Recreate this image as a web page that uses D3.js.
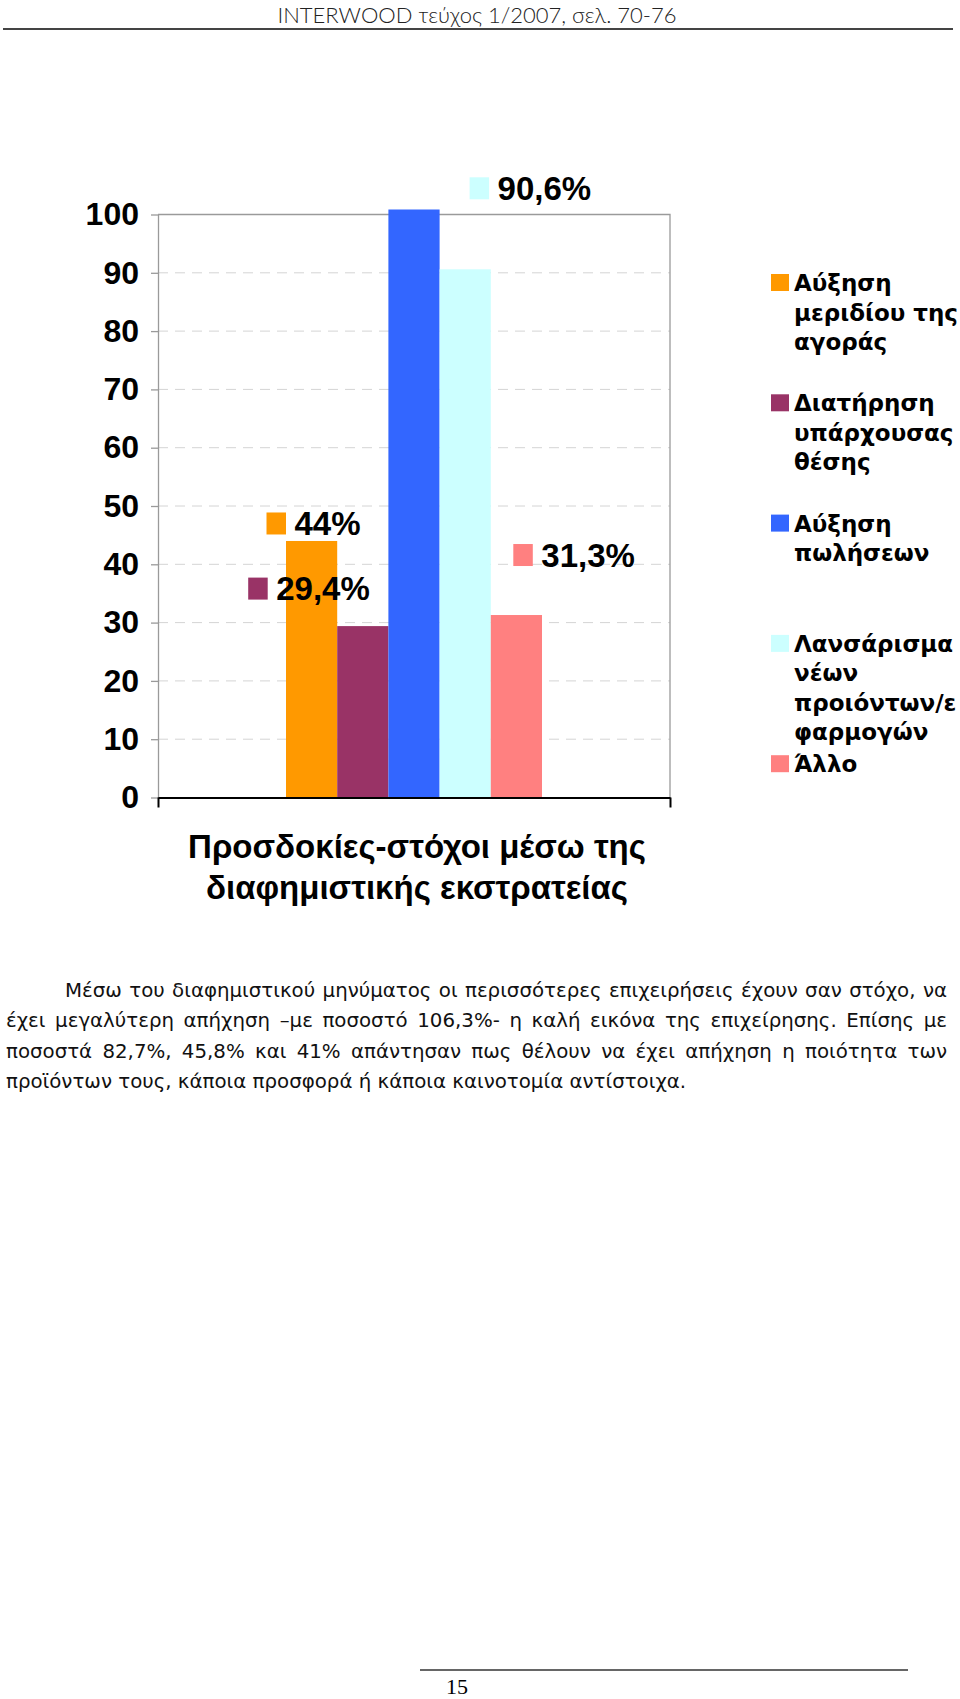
<!DOCTYPE html>
<html>
<head>
<meta charset="utf-8">
<script src="https://cdn.jsdelivr.net/npm/d3@7"></script>
<style>
  body { margin: 0; background: #fff; }
  svg { display: block; }
</style>
</head>
<body>
<svg id="chart" width="960" height="1699"></svg>
<script>
// chart data
var seriesNames = ['Αύξηση μεριδίου της αγοράς', 'Διατήρηση υπάρχουσας θέσης', 'Αύξηση πωλήσεων',
  'Λανσάρισμα νέων προιόντων/εφαρμογών', 'Άλλο'];
var legendLines = [
  ['Αύξηση', 'μεριδίου της', 'αγοράς'],
  ['Διατήρηση', 'υπάρχουσας', 'θέσης'],
  ['Αύξηση', 'πωλήσεων'],
  ['Λανσάρισμα', 'νέων', 'προιόντων/ε', 'φαρμογών'],
  ['Άλλο']
];
var seriesValues = [44, 29.4, 106.3, 90.6, 31.3];
var showLabel = [true, true, false, true, true];
var seriesColors = ['#FF9900', '#993366', '#3366FF', '#CCFFFF', '#FF8080'];
var categories = ['Προσδοκίες-στόχοι μέσω της διαφημιστικής εκστρατείας'];
var categoryLines = ['Προσδοκίες-στόχοι μέσω της', 'διαφημιστικής εκστρατείας'];
var yTicks = [0, 10, 20, 30, 40, 50, 60, 70, 80, 90, 100];

var headerText = 'INTERWOOD τεύχος 1/2007, σελ. 70-76';
var pageNumber = '15';
var paragraphLines = [
  'Μέσω του διαφημιστικού μηνύματος οι περισσότερες επιχειρήσεις έχουν σαν στόχο, να',
  'έχει μεγαλύτερη απήχηση –με ποσοστό 106,3%- η καλή εικόνα της επιχείρησης. Επίσης με',
  'ποσοστά 82,7%, 45,8% και 41% απάντησαν πως θέλουν να έχει απήχηση η ποιότητα των',
  'προϊόντων τους, κάποια προσφορά ή κάποια καινοτομία αντίστοιχα.'
];

// label placement (hand-placed in the original chart), relative to bar top-left
var labelNudge = [
  { dx: -19.5, dy: -28.5 },
  { dx: -89, dy: -48.5 },
  { dx: 0, dy: 0 },
  { dx: 30, dy: -92 },
  { dx: 22.5, dy: -71 }
];

function buildChart() {
  var svg = d3.select('#chart');
  var plot = { l: 158, r: 670, t: 214.5, b: 797.5 };
  var boldFont = '"Liberation Sans", Arial, sans-serif';

  svg.append('rect').attr('width', 960).attr('height', 1699).attr('fill', '#fff');

  // page header
  svg.append('text')
    .attr('x', 477).attr('y', 23)
    .attr('text-anchor', 'middle')
    .attr('font-family', 'Lato, "DejaVu Sans", sans-serif')
    .attr('font-weight', 300)
    .attr('font-size', 22)
    .attr('fill', '#222')
    .text(headerText);
  svg.append('line')
    .attr('x1', 3).attr('x2', 953).attr('y1', 29).attr('y2', 29)
    .attr('stroke', '#444').attr('stroke-width', 2);

  var yScale = d3.scaleLinear().domain([0, 100]).range([plot.b, plot.t]);
  var xScale = d3.scaleBand().domain(categories).range([plot.l, plot.r])
    .paddingInner(0).paddingOuter(0.5);
  var xSeries = d3.scaleBand().domain(d3.range(seriesValues.length))
    .range([0, xScale.bandwidth()]);

  // gridlines
  svg.append('g').selectAll('line')
    .data(yTicks.filter(d => d > 0 && d < 100))
    .enter().append('line')
    .attr('x1', plot.l).attr('x2', plot.r)
    .attr('y1', d => yScale(d)).attr('y2', d => yScale(d))
    .attr('stroke', '#d4d4d4').attr('stroke-width', 1)
    .attr('stroke-dasharray', '10,7');

  // plot frame (top and right)
  svg.append('path')
    .attr('d', 'M' + plot.l + ',' + plot.t + 'H' + plot.r + 'V' + plot.b)
    .attr('fill', 'none').attr('stroke', '#9a9a9a').attr('stroke-width', 1.3);

  // bars (clipped just above the plot area, like the original)
  svg.append('clipPath').attr('id', 'barClip')
    .append('rect')
    .attr('x', plot.l).attr('y', plot.t - 5)
    .attr('width', plot.r - plot.l).attr('height', plot.b - plot.t + 5);

  var barX = i => xScale(categories[0]) + xSeries(i);
  var barTop = v => Math.max(yScale(v), plot.t - 5);

  svg.append('g').attr('clip-path', 'url(#barClip)')
    .selectAll('rect')
    .data(seriesValues)
    .enter().append('rect')
    .attr('x', (d, i) => barX(i))
    .attr('y', d => yScale(d))
    .attr('width', xSeries.bandwidth())
    .attr('height', d => yScale(0) - yScale(d))
    .attr('fill', (d, i) => seriesColors[i]);

  // y axis
  var yAxisG = svg.append('g')
    .attr('transform', 'translate(' + plot.l + ',0)')
    .call(d3.axisLeft(yScale).tickValues(yTicks).tickSize(7).tickPadding(12).tickSizeOuter(0));
  yAxisG.select('.domain').attr('stroke', '#9a9a9a').attr('stroke-width', 1.3);
  yAxisG.selectAll('.tick line').attr('stroke', '#9a9a9a').attr('stroke-width', 1.3);
  yAxisG.selectAll('.tick text')
    .attr('font-family', boldFont)
    .attr('font-weight', 'bold')
    .attr('font-size', 32)
    .attr('fill', '#000');

  // x axis: one category, tick marks at both ends
  var xEdge = d3.scaleLinear().domain([0, 1]).range([plot.l, plot.r]);
  var xAxisG = svg.append('g')
    .attr('transform', 'translate(0,' + plot.b + ')')
    .call(d3.axisBottom(xEdge).tickValues([0, 1]).tickSize(10).tickSizeOuter(0).tickFormat(''));
  xAxisG.select('.domain').attr('stroke', '#000').attr('stroke-width', 2);
  xAxisG.selectAll('.tick line').attr('stroke', '#000').attr('stroke-width', 2);

  // category label
  svg.append('g').selectAll('text')
    .data(categoryLines)
    .enter().append('text')
    .attr('x', xScale(categories[0]) + xScale.bandwidth() / 2 + 3)
    .attr('y', (d, i) => 858 + i * 41)
    .attr('text-anchor', 'middle')
    .attr('font-family', boldFont)
    .attr('font-weight', 'bold')
    .attr('font-size', 33)
    .attr('fill', '#000')
    .text(d => d);

  // data labels with legend key
  var fmt = d3.formatLocale({ decimal: ',', thousands: '.', grouping: [3], currency: ['', '€'] }).format('~r');
  var labelData = seriesValues.map((v, i) => ({ v: v, i: i })).filter(d => showLabel[d.i]);
  var labels = svg.append('g').selectAll('g')
    .data(labelData)
    .enter().append('g')
    .attr('transform', d => 'translate(' + [barX(d.i) + labelNudge[d.i].dx, barTop(d.v) + labelNudge[d.i].dy] + ')');
  labels.append('rect')
    .attr('width', 19.5).attr('height', 22)
    .attr('fill', d => seriesColors[d.i]);
  labels.append('text')
    .attr('x', 28).attr('y', 22.5)
    .attr('font-family', boldFont)
    .attr('font-weight', 'bold')
    .attr('font-size', 33)
    .attr('fill', '#000')
    .text(d => fmt(d.v) + '%');

  // legend
  var legend = svg.append('g').selectAll('g')
    .data(seriesNames)
    .enter().append('g')
    .attr('transform', (d, i) => 'translate(771,' + (291 + i * 120.3) + ')');
  legend.append('rect')
    .attr('y', -17).attr('width', 18).attr('height', 17)
    .attr('fill', (d, i) => seriesColors[i]);
  legend.append('text')
    .attr('font-family', '"DejaVu Sans", Verdana, sans-serif')
    .attr('font-weight', 'bold')
    .attr('font-size', 23)
    .attr('fill', '#000')
    .selectAll('tspan')
    .data((d, i) => legendLines[i])
    .enter().append('tspan')
    .attr('x', 23)
    .attr('y', (d, j) => j * 29.5)
    .text(d => d);

  // paragraph, justified
  var paraG = svg.append('g')
    .attr('font-family', '"DejaVu Sans", sans-serif')
    .attr('font-size', 19.8)
    .attr('fill', '#111');
  paragraphLines.forEach(function(line, i) {
    var x0 = i === 0 ? 65 : 6;
    var t = paraG.append('text')
      .attr('x', x0)
      .attr('y', 997 + i * 30.3)
      .text(line);
    if (i < paragraphLines.length - 1) {
      var len = t.node().getComputedTextLength();
      var spaces = line.split(' ').length - 1;
      t.attr('word-spacing', (947 - x0 - len) / spaces);
    }
  });

  // footer
  svg.append('line')
    .attr('x1', 420).attr('x2', 908).attr('y1', 1670).attr('y2', 1670)
    .attr('stroke', '#333').attr('stroke-width', 1.5);
  svg.append('text')
    .attr('x', 457).attr('y', 1694)
    .attr('text-anchor', 'middle')
    .attr('font-family', '"Liberation Serif", "Times New Roman", serif')
    .attr('font-size', 22)
    .attr('fill', '#000')
    .text(pageNumber);
}

buildChart();
</script>
</body>
</html>
